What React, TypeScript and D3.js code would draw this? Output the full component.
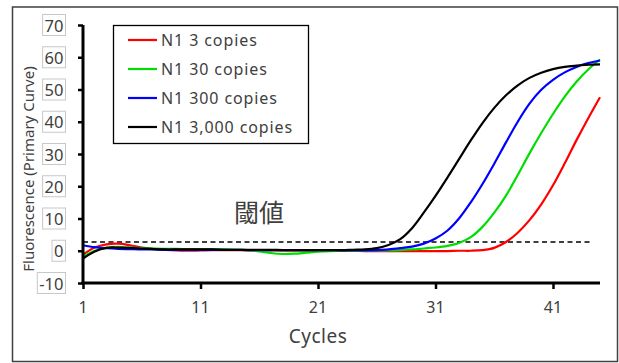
import React, { useEffect, useRef } from "react";
import * as d3 from "d3";

// cycle numbers 1..45
const cycles = d3.range(1, 46);

// fluorescence values per cycle
const n1_3 = [
  -1.2, 1.0, 2.0, 2.2, 1.7, 1.0, 0.6, 0.3, 0.1, 0.0,
  0.1, 0.2, 0.2, 0.2, 0.1, 0.1, 0.1, 0.1, 0.1, 0.1,
  0.0, 0.0, 0.0, 0.0, -0.1, -0.1, -0.1, -0.1, -0.1, -0.1,
  -0.1, -0.1, 0.0, 0.0, 0.2, 0.9, 2.7, 5.6, 9.5, 14.4,
  20.3, 27.1, 34.3, 41.1, 47.6,
];
const n1_30 = [
  -1.9, 0.0, 1.0, 1.2, 1.0, 0.8, 0.7, 0.6, 0.6, 0.5,
  0.5, 0.5, 0.4, 0.3, 0.2, -0.2, -0.7, -1.0, -0.9, -0.6,
  -0.3, -0.1, 0.0, 0.0, 0.0, 0.1, 0.1, 0.2, 0.4, 0.7,
  1.0, 1.5, 2.4, 4.2, 7.4, 11.8, 17.1, 23.5, 30.2, 36.5,
  42.4, 47.8, 52.4, 56.2, 59.3,
];
const n1_300 = [
  1.7, 1.1, 0.8, 0.6, 0.5, 0.4, 0.4, 0.3, 0.3, 0.3,
  0.3, 0.3, 0.3, 0.3, 0.2, 0.2, 0.2, 0.2, 0.2, 0.2,
  0.2, 0.2, 0.1, 0.1, 0.1, 0.2, 0.4, 0.8, 1.3, 2.2,
  3.8, 6.2, 10.0, 15.0, 20.7, 27.0, 33.6, 40.0, 45.6, 49.9,
  53.0, 55.3, 57.0, 58.2, 59.0,
];
const n1_3000 = [
  -2.4, -0.2, 0.9, 1.0, 0.9, 0.7, 0.5, 0.4, 0.4, 0.4,
  0.4, 0.4, 0.3, 0.3, 0.3, 0.3, 0.3, 0.2, 0.2, 0.2,
  0.2, 0.2, 0.2, 0.3, 0.4, 0.8, 1.8, 3.6, 7.0, 11.8,
  17.0, 22.6, 28.4, 34.2, 39.6, 44.3, 48.2, 51.3, 53.6, 55.2,
  56.3, 57.0, 57.4, 57.7, 57.8,
];

const seriesNames = ["N1 3 copies", "N1 30 copies", "N1 300 copies", "N1 3,000 copies"];
const seriesValues = [n1_3, n1_30, n1_300, n1_3000];
const seriesColors = ["#ff0000", "#00dd00", "#0000ff", "#000000"];

const yTicks = [-10, 0, 10, 20, 30, 40, 50, 60, 70];
const xTicks = [1, 11, 21, 31, 41];
const threshold = 2.7;
const thresholdEnd = 44.3;

const App: React.FC = () => {
  const chartRef = useRef<SVGSVGElement | null>(null);

  useEffect(() => {
    if (!chartRef.current) return;
    const svg = d3.select(chartRef.current);
    svg.selectAll("*").remove();

    const font = "'Noto Sans', 'Noto Sans CJK JP', sans-serif";
    const cjkFont = "'Noto Sans CJK JP', sans-serif";
    const textColor = "#404040";

    const x = d3.scaleLinear().domain([1, 45]).range([83, 600]);
    const y = d3.scaleLinear().domain([-10, 70]).range([283, 25]);

    // outer frame
    svg
      .append("rect")
      .attr("x", 12.5)
      .attr("y", 7)
      .attr("width", 605)
      .attr("height", 354.5)
      .attr("fill", "white")
      .attr("stroke", "#404040")
      .attr("stroke-width", 1.5);

    // threshold line
    svg
      .append("line")
      .attr("x1", x(1))
      .attr("x2", x(thresholdEnd))
      .attr("y1", y(threshold))
      .attr("y2", y(threshold))
      .attr("stroke", "black")
      .attr("stroke-width", 1.4)
      .attr("stroke-dasharray", "5,3.5");

    // curves
    const line = d3
      .line<number>()
      .x((_, i) => x(cycles[i]))
      .y((d) => y(d))
      .curve(d3.curveCatmullRom.alpha(0.5));

    seriesValues.forEach((vals, i) => {
      svg
        .append("path")
        .datum(vals)
        .attr("fill", "none")
        .attr("stroke", seriesColors[i])
        .attr("stroke-width", 2.2)
        .attr("d", line);
    });

    // y axis ticks
    const yAxis = svg
      .append("g")
      .attr("transform", `translate(${x(1)},0)`)
      .call(d3.axisLeft(y).tickValues(yTicks).tickSize(5).tickFormat(() => ""));
    yAxis.select(".domain").remove();
    yAxis.selectAll(".tick line").attr("stroke", "black").attr("stroke-width", 2.5);

    // x axis ticks
    const xAxis = svg
      .append("g")
      .attr("transform", `translate(0,${y(-10)})`)
      .call(d3.axisBottom(x).tickValues(xTicks).tickSize(6).tickFormat(() => ""));
    xAxis.select(".domain").remove();
    xAxis.selectAll(".tick line").attr("stroke", "black").attr("stroke-width", 2.5);

    // axis lines
    svg
      .append("line")
      .attr("x1", x(1))
      .attr("x2", x(1))
      .attr("y1", y(70))
      .attr("y2", y(-10) + 1.5)
      .attr("stroke", "black")
      .attr("stroke-width", 3);
    svg
      .append("line")
      .attr("x1", x(1) - 1.5)
      .attr("x2", x(45))
      .attr("y1", y(-10))
      .attr("y2", y(-10))
      .attr("stroke", "black")
      .attr("stroke-width", 3);

    // y tick labels with their little boxes
    const yLab = svg.append("g");
    yTicks.forEach((t) => {
      const txt = yLab
        .append("text")
        .attr("x", 63.5)
        .attr("y", y(t))
        .attr("text-anchor", "end")
        .attr("dominant-baseline", "central")
        .attr("font-family", font)
        .attr("font-size", 16.5)
        .attr("fill", textColor)
        .text(String(t));
      const bb = (txt.node() as SVGTextElement).getBBox();
      yLab
        .append("rect")
        .attr("x", bb.x - 2)
        .attr("y", y(t) - 10.5)
        .attr("width", bb.width + 4)
        .attr("height", 21)
        .attr("fill", "none")
        .attr("stroke", "#c8c8c8")
        .attr("stroke-width", 1);
    });

    // x tick labels
    xTicks.forEach((t) => {
      svg
        .append("text")
        .attr("x", x(t))
        .attr("y", 313)
        .attr("text-anchor", "middle")
        .attr("font-family", font)
        .attr("font-size", 16)
        .attr("fill", textColor)
        .text(String(t));
    });

    // axis titles
    svg
      .append("text")
      .attr("x", 318)
      .attr("y", 343)
      .attr("text-anchor", "middle")
      .attr("font-family", font)
      .attr("font-size", 19)
      .attr("letter-spacing", 0.5)
      .attr("fill", textColor)
      .text("Cycles");
    svg
      .append("text")
      .attr("transform", "translate(28,169) rotate(-90)")
      .attr("text-anchor", "middle")
      .attr("dominant-baseline", "central")
      .attr("font-family", font)
      .attr("font-size", 15)
      .attr("fill", textColor)
      .text("Fluorescence (Primary Curve)");

    // threshold label
    svg
      .append("text")
      .attr("x", 259)
      .attr("y", 211)
      .attr("text-anchor", "middle")
      .attr("dominant-baseline", "central")
      .attr("font-family", cjkFont)
      .attr("font-size", 25)
      .attr("fill", textColor)
      .text("閾値");

    // legend
    const legend = svg.append("g");
    legend
      .append("rect")
      .attr("x", 113.5)
      .attr("y", 25.5)
      .attr("width", 195)
      .attr("height", 118)
      .attr("fill", "white")
      .attr("stroke", "black")
      .attr("stroke-width", 1.3);
    seriesNames.forEach((name, i) => {
      const ly = 40 + i * 29;
      legend
        .append("line")
        .attr("x1", 128)
        .attr("x2", 157)
        .attr("y1", ly)
        .attr("y2", ly)
        .attr("stroke", seriesColors[i])
        .attr("stroke-width", 2.2);
      legend
        .append("text")
        .attr("x", 161)
        .attr("y", ly)
        .attr("dominant-baseline", "central")
        .attr("font-family", font)
        .attr("font-size", 16)
        .attr("letter-spacing", 0.9)
        .attr("fill", textColor)
        .text(name);
    });
  }, []);

  return (
    <svg
      ref={chartRef}
      width={619}
      height={363}
      style={{ position: "absolute", left: 0, top: 0 }}
    ></svg>
  );
};

export default App;
